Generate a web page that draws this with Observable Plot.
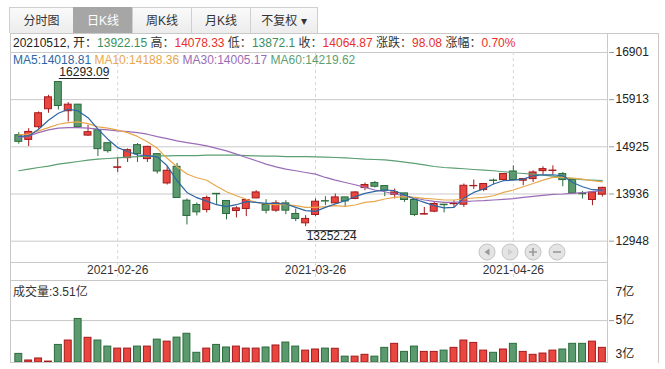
<!DOCTYPE html>
<html><head><meta charset="utf-8">
<script src="https://cdn.jsdelivr.net/npm/d3@7"></script>
<script src="https://cdn.jsdelivr.net/npm/@observablehq/plot@0.6"></script>
<style>
html,body{margin:0;padding:0;background:#fff;}
body{font-family:"Liberation Sans","Noto Sans CJK SC",sans-serif;color:#333;}
#wrap{position:relative;width:665px;height:369px;overflow:hidden;}
.a{position:absolute;}
.tab{position:absolute;top:7px;height:26px;line-height:26px;text-align:center;font-size:12px;color:#333;
 background:linear-gradient(#fafafa,#ececec);border:1px solid #cfcfcf;border-bottom:none;box-sizing:border-box;}
.tab.sel{background:#a6a6a6;color:#fff;border-color:#a6a6a6;}
.hl{position:absolute;background:#c9c9c9;}
.hdr{font-size:12px;line-height:16px;white-space:nowrap;}
.g{color:#3c8f5c}.r{color:#e8302a}
</style></head><body><div id="wrap"></div>
<script>
// ---------- data ----------
const dates = ["2021-02-05","2021-02-08","2021-02-09","2021-02-10","2021-02-18","2021-02-19","2021-02-22","2021-02-23","2021-02-24","2021-02-25","2021-02-26",
"2021-03-01","2021-03-02","2021-03-03","2021-03-04","2021-03-05","2021-03-08","2021-03-09","2021-03-10","2021-03-11","2021-03-12","2021-03-15","2021-03-16","2021-03-17","2021-03-18","2021-03-19","2021-03-22","2021-03-23","2021-03-24","2021-03-25","2021-03-26","2021-03-29","2021-03-30","2021-03-31",
"2021-04-01","2021-04-02","2021-04-06","2021-04-07","2021-04-08","2021-04-09","2021-04-12","2021-04-13","2021-04-14","2021-04-15","2021-04-16","2021-04-19","2021-04-20","2021-04-21","2021-04-22","2021-04-23","2021-04-26","2021-04-27","2021-04-28","2021-04-29","2021-04-30",
"2021-05-06","2021-05-07","2021-05-10","2021-05-11","2021-05-12"];
const open  = [15168,15070,15336,15712,16282,15670,15808,15160,15273,15001,14485,14688,14960,14667,14772,14157,14506,13796,13706,13602,13940,13790,13581,13623,13844,13706,13587,13740,13518,13322,13497,13786,13740,13865,13832,14061,14166,14103,13921,13949,13811,13505,13566,13713,13723,13712,14099,14020,14218,14228,14408,14214,14249,14416,14419,14354,14228,13942,13811,13922.15];
const high  = [15223,15306,15655,16004,16293.09,15850,15814,15377,15279,15007,14701,14882,14993,14935,14778,14506,14575,13832,13748,13894,13944,13796,13671,13817,14005,13817,13796,13796,13623,13483,13832,13880,13936,13869,13984,14166,14199,14109,14040,13953,13817,13656,13761,13717,13796,14145,14228,14151,14249,14360,14527,14256,14423,14506,14527,14387,14235,13990,13974,14078.33];
const low   = [14980,14930,15294,15628,15697,15446,15321,15139,14721,14792,14387,14596,14596,14596,14354,14124,13848,13288,13476,13539,13706,13393,13435,13462,13838,13518,13552,13504,13357,13252.24,13462,13692,13727,13656,13817,14005,14061,13880,13832,13761,13462,13497,13545,13539,13644,13656,14032,13984,14130,14199,14214,14109,14178,14333,14333,14088,13942,13832,13692,13872.1];
const close = [15029,15237,15628,15962,15780,15808,15336,15231,14876,14834,14495,14855,14772,14924,14408,14423,13852,13476,13552,13852,13930,13518,13635,13811,13969,13587,13740,13587,13414,13414,13775,13778,13865,13781,13969,14124,14088,14005,13969,13811,13497,13515,13727,13702,13729,14109,14105,14145,14210,14354,14228,14249,14387,14458,14427,14228,13949,13932,13966.79,14064.87];
// volume in 亿
const volume = [3.18,2.82,2.93,2.76,3.67,3.91,5.09,4.06,3.91,3.58,3.47,3.47,3.58,3.58,3.96,3.85,4.07,4.28,3.24,3.47,3.67,3.53,3.58,3.47,3.47,3.53,3.64,3.80,3.58,3.36,3.42,3.47,3.46,3.03,3.03,3.13,3.03,3.51,3.73,3.29,3.58,3.29,3.29,3.36,3.51,3.91,3.78,3.36,3.24,3.42,3.73,3.29,3.13,3.20,3.36,3.42,3.73,3.73,3.85,3.51];
const ma5  = [15143,15154,15294,15482,15628,15712,15676,15536,15294,15085,14909,14826,14753,14742,14715,14527,14214,13969,13859,13786,13712,13671,13712,13775,13761,13740,13740,13727,13656,13587,13573,13656,13727,13796,13880,13949,13990,14020,14005,13915,13832,13761,13692,13644,13656,13852,13969,14040,14145,14214,14228,14249,14318,14339,14339,14318,14178,14088,14026,14018.81];
const ma10 = [15175,15189,15258,15327,15398,15432,15446,15411,15342,15315,15273,15223,15143,15029,14893,14684,14506,14354,14277,14224,14099,13984,13900,13827,13761,13727,13712,13712,13692,13656,13656,13671,13692,13677,13706,13761,13781,13832,13865,13880,13865,13844,13832,13811,13811,13832,13852,13865,13900,13969,14020,14088,14157,14228,14283,14283,14270,14249,14214,14188.36];
const ma30 = [15112,15154,15223,15279,15315,15327,15327,15315,15294,15279,15258,15244,15223,15189,15139,15097,15049,15014,14981,14945,14893,14841,14772,14701,14632,14563,14506,14458,14423,14387,14354,14283,14228,14178,14130,14074,14020,13984,13936,13900,13852,13811,13781,13761,13761,13775,13790,13796,13811,13823,13838,13865,13886,13907,13928,13936,13949,13963,13984,14005.17];
const ma60 = [14423,14458,14492,14521,14563,14590,14617,14646,14667,14680,14694,14709,14721,14730,14736,14736,14742,14742,14742,14751,14751,14751,14751,14742,14736,14730,14730,14721,14721,14721,14715,14709,14701,14694,14680,14667,14659,14653,14632,14604,14579,14548,14513,14492,14479,14465,14450,14437,14423,14402,14381,14366,14354,14333,14312,14283,14256,14235,14228,14219.62];
const priceTicks = [16901,15913,14925,13936,12948];
const priceDomain = [12501,16901];
const volTicks = [7,5,3];
const volDomain = [2.71,7.19];
const dateTicks = ["2021-02-26","2021-03-26","2021-04-26"];
const tabs = ["分时图","日K线","周K线","月K线","不复权 ▾"];

// ---------- styles ----------
const RED_FILL="#e8463e", RED_LINE="#a3191c", GREEN_FILL="#5a9a6e", GREEN_LINE="#2b6b3a";
const C5="#2c67a4", C10="#e9a74c", C30="#9a6cb7", C60="#5c9f72", GRID="#c9c9c9";
const FONT = '"Liberation Sans","Noto Sans CJK SC",sans-serif';

const rows = dates.map((d,i)=>({date:d,o:open[i],h:high[i],l:low[i],c:close[i],v:volume[i],
  m5:ma5[i],m10:ma10[i],m30:ma30[i],m60:ma60[i],up:close[i]>=open[i]}));
const ups = rows.filter(d=>d.up), downs = rows.filter(d=>!d.up);
const hiRow = rows[d3.maxIndex(rows,d=>d.h)], loRow = rows[d3.minIndex(rows,d=>d.l)];

const xOpts = {type:"band", domain:dates, paddingInner:0.3, paddingOuter:0.38, align:0.643, axis:null, label:null};
const wrap = document.getElementById("wrap");

// tabs
const tabX = [9,73,132,191,250,317];
tabs.forEach((t,i)=>{
  const el=document.createElement("div"); el.className="tab"+(i===1?" sel":"");
  el.style.left=tabX[i]+"px"; el.style.width=(tabX[i+1]-tabX[i]+1)+"px"; el.textContent=t; wrap.appendChild(el);
});

// underline style for the extreme-value labels (band-relative insets)
const LBL_W = 50;
const underlineOpts = {insetLeft:4.4, insetRight:-(LBL_W-2.5), stroke:"#222", strokeWidth:1};

// price chart
const price = Plot.plot({
  width:665, height:247, marginTop:19, marginBottom:18, marginLeft:10, marginRight:57,
  style:{fontSize:"12px", fontFamily:FONT, color:"#333", background:"transparent", overflow:"visible"},
  x:xOpts,
  y:{domain:priceDomain, axis:null, label:null},
  marks:[
    Plot.gridY(priceTicks,{stroke:GRID, strokeOpacity:1}),
    Plot.ruleY([priceDomain[0]],{stroke:GRID}),
    Plot.ruleX(dateTicks,{stroke:"#d6d6d6", strokeDasharray:"3,3"}),
    Plot.axisX(dateTicks,{anchor:"bottom", label:null, tickSize:18, stroke:"#d6d6d6", strokeDasharray:"3,3", tickPadding:-15, fill:"#333", fontSize:12}),
    Plot.ruleX(ups,{x:"date", y1:"l", y2:"h", stroke:RED_LINE}),
    Plot.ruleX(downs,{x:"date", y1:"l", y2:"h", stroke:GREEN_LINE}),
    Plot.barY(ups,{x:"date", y1:"o", y2:"c", fill:RED_FILL, stroke:RED_LINE, strokeWidth:1}),
    Plot.barY(downs,{x:"date", y1:"o", y2:"c", fill:GREEN_FILL, stroke:GREEN_LINE, strokeWidth:1}),
    Plot.line(rows,{x:"date", y:"m60", stroke:C60, strokeWidth:1.2}),
    Plot.line(rows,{x:"date", y:"m30", stroke:C30, strokeWidth:1.2}),
    Plot.line(rows,{x:"date", y:"m10", stroke:C10, strokeWidth:1.2}),
    Plot.line(rows,{x:"date", y:"m5", stroke:C5, strokeWidth:1.2}),
    Plot.text([hiRow],{x:"date", y:"h", text:d=>d.h.toFixed(2), textAnchor:"start", dx:1, dy:-9, fill:"#222", fontSize:12}),
    Plot.tickY([hiRow],{x:"date", y:"h", dy:-3, ...underlineOpts}),
    Plot.text([loRow],{x:"date", y:"l", text:d=>d.l.toFixed(2), textAnchor:"start", dx:1, dy:10, fill:"#222", fontSize:12}),
    Plot.tickY([loRow],{x:"date", y:"l", dy:4, ...underlineOpts}),
    Plot.axisY(priceTicks,{anchor:"right", label:null, tickSize:5, tickPadding:2, stroke:"#999", fill:"#222", fontSize:12, tickFormat:d=>String(d)})
  ]
});
price.style.position="absolute"; price.style.left="0px"; price.style.top="33px";
wrap.appendChild(price);

// volume chart
const fmtVol = d=>d+"亿";
const vol = Plot.plot({
  width:665, height:89, marginTop:0, marginBottom:7, marginLeft:10, marginRight:57,
  style:{fontSize:"12px", fontFamily:FONT, color:"#333", background:"transparent", overflow:"visible"},
  x:xOpts,
  y:{domain:volDomain, axis:null, label:null},
  marks:[
    Plot.gridY([volTicks[1]],{stroke:GRID, strokeOpacity:1}),
    Plot.ruleY([volDomain[1]],{stroke:GRID}),
    Plot.barY(ups,{x:"date", y1:volDomain[0], y2:"v", fill:RED_FILL, stroke:RED_LINE}),
    Plot.barY(downs,{x:"date", y1:volDomain[0], y2:"v", fill:GREEN_FILL, stroke:GREEN_LINE}),
    Plot.ruleY([volDomain[0]],{stroke:GRID}),
    Plot.axisY([volTicks[1]],{anchor:"right", label:null, tickSize:5, tickPadding:2, stroke:"#999", fill:"#222", fontSize:12, tickFormat:fmtVol}),
    Plot.axisY([volTicks[0]],{anchor:"right", label:null, tickSize:0, tickPadding:7, dy:8, fill:"#222", fontSize:12, tickFormat:fmtVol}),
    Plot.axisY([volTicks[2]],{anchor:"right", label:null, tickSize:0, tickPadding:7, dy:-3, fill:"#222", fontSize:12, tickFormat:fmtVol})
  ]
});
vol.style.position="absolute"; vol.style.left="0px"; vol.style.top="280px";
wrap.appendChild(vol);

// frame lines
function line(l,t,w,h){const e=document.createElement("div");e.className="hl";e.style.left=l+"px";e.style.top=t+"px";e.style.width=w+"px";e.style.height=h+"px";wrap.appendChild(e);}
line(10,33,649,1);   // top border
line(10,33,1,330);   // left border
line(607,33,1,330);  // axis border
line(658,33,1,330);  // right border

// header texts
const last = rows[rows.length-1], prev = rows[rows.length-2];
const chg = last.c-prev.c;
const hdr=document.createElement("div"); hdr.className="a hdr"; hdr.style.left="13px"; hdr.style.top="35px";
hdr.innerHTML=`<span style="color:#222">${last.date.replaceAll("-","")}, 开：</span><span class="g">${last.o.toFixed(2)}</span> 高：<span class="r">${last.h.toFixed(2)}</span> 低：<span class="g">${String(last.l)}</span> 收：<span class="r">${last.c.toFixed(2)}</span> 涨跌：<span class="r">${chg.toFixed(2)}</span> 涨幅：<span class="r">${(chg/prev.c*100).toFixed(2)}%</span>`;
wrap.appendChild(hdr);
const ma=document.createElement("div"); ma.className="a hdr"; ma.style.left="13px"; ma.style.top="52px";
ma.innerHTML=`<span style="color:${C5}">MA5:${last.m5.toFixed(2)}</span> <span style="color:${C10}">MA10:${last.m10.toFixed(2)}</span> <span style="color:${C30}">MA30:${last.m30.toFixed(2)}</span> <span style="color:${C60}">MA60:${last.m60.toFixed(2)}</span>`;
wrap.appendChild(ma);
const vl=document.createElement("div"); vl.className="a hdr"; vl.style.left="13px"; vl.style.top="284px";
vl.textContent=`成交量:${last.v.toFixed(2)}亿`; wrap.appendChild(vl);

// navigation buttons
const nav=document.createElementNS("http://www.w3.org/2000/svg","svg");
nav.setAttribute("width","90");nav.setAttribute("height","20");
nav.style.position="absolute";nav.style.left="477px";nav.style.top="242px";
const cx=[10,33,56,80];
nav.innerHTML = cx.map((x,i)=>`<circle cx="${x}" cy="10" r="8" fill="#e4e4e4" stroke="#c4c4c4"/>`).join("")+
 `<path d="M12.5,6.5 L7.5,10 L12.5,13.5Z" fill="#9a9a9a"/>`+
 `<path d="M31,6.5 L36,10 L31,13.5Z" fill="#cfcfcf"/>`+
 `<path d="M52,10 H60 M56,6 V14" stroke="#9a9a9a" stroke-width="1.6"/>`+
 `<path d="M76,10 H84" stroke="#9a9a9a" stroke-width="1.6"/>`;
wrap.appendChild(nav);
</script></body></html>
